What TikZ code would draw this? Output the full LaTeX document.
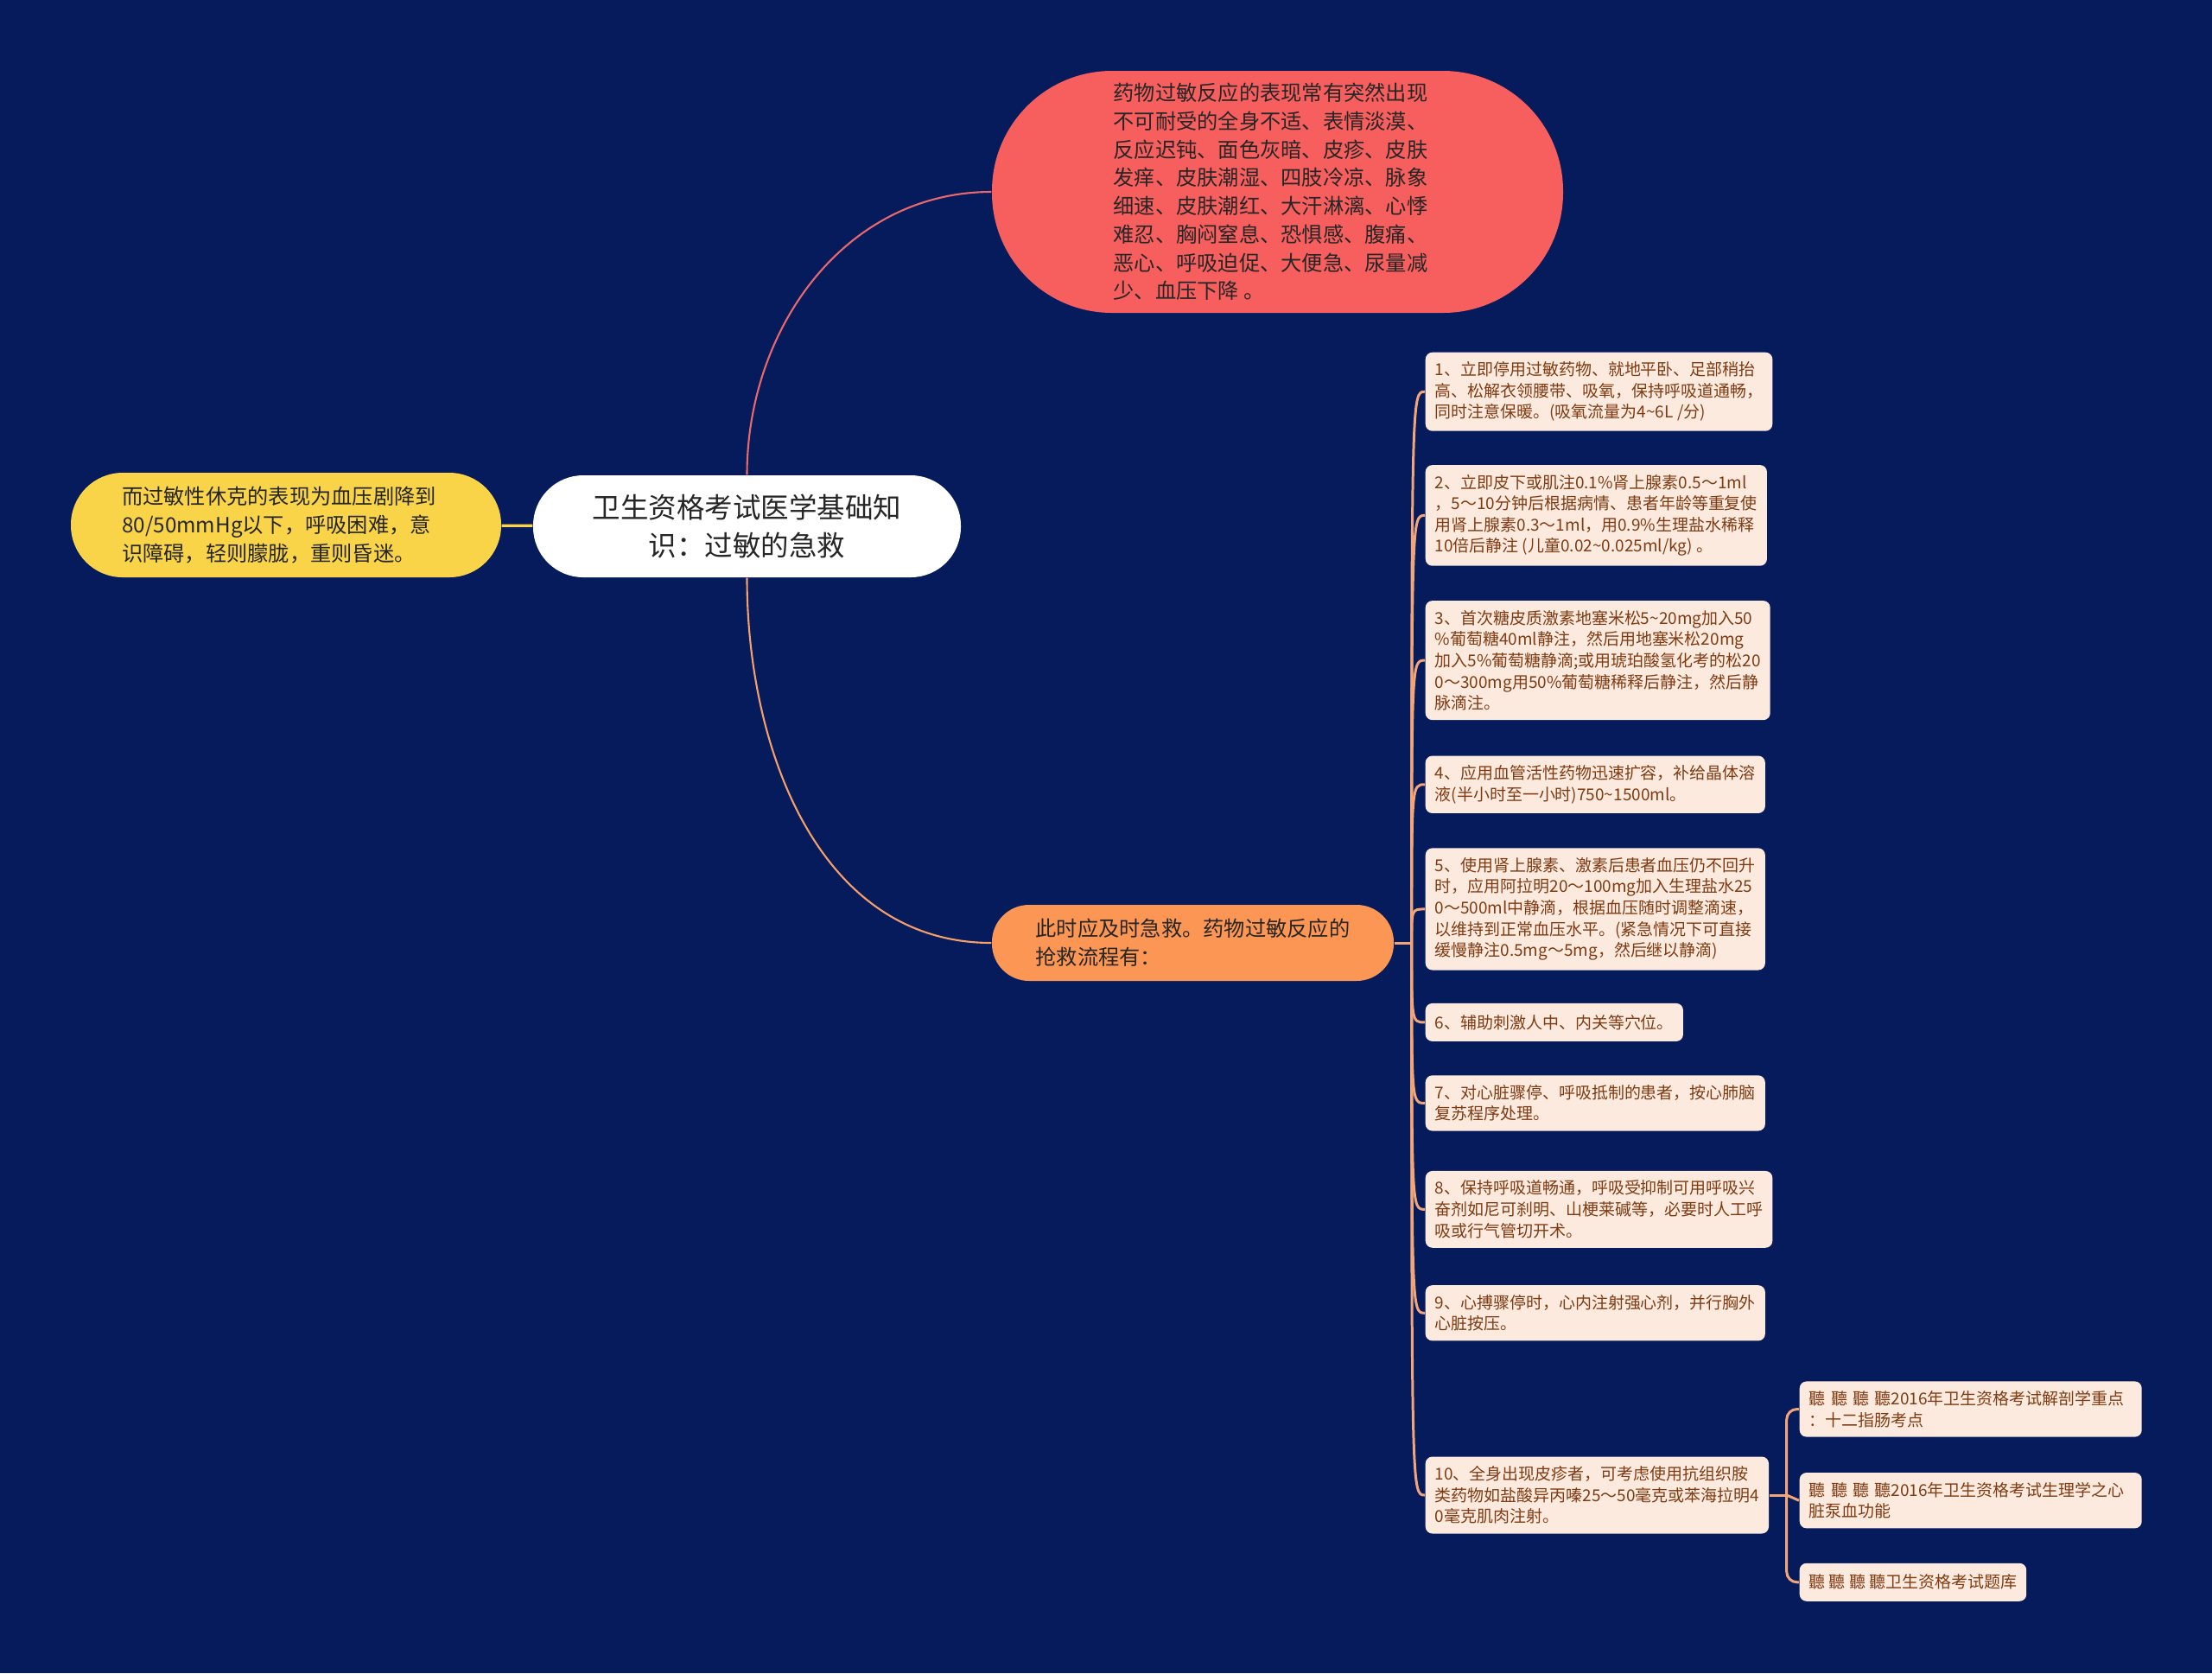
\documentclass[tikz,border=0pt]{standalone}
\usepackage{fontspec}
\setmainfont{Noto Sans CJK SC}
\usepackage{tikz}
\usetikzlibrary{positioning}

\definecolor{bgnavy}{HTML}{061B5B}
\definecolor{rootfill}{HTML}{FFFFFF}
\definecolor{symfill}{HTML}{F65F5E}
\definecolor{shockfill}{HTML}{F9D448}
\definecolor{aidfill}{HTML}{FC9654}
\definecolor{itemfill}{HTML}{FDEADF}
\definecolor{itemtext}{HTML}{7F3B12}
\definecolor{linkred}{HTML}{E8686E}
\definecolor{linkorange}{HTML}{F5A06A}
\definecolor{linkpeach}{HTML}{F3A57A}

\begin{document}
\begin{tikzpicture}[
        bigtext/.style={font=\fontsize{6.9pt}{9.3pt}\selectfont, align=left, text=black!85},
        item/.style={fill=itemfill, text=itemtext, rounded corners=0.08cm, inner xsep=0.11cm, inner ysep=0.11cm, minimum height=0.44cm, align=left, font=\fontsize{5.4pt}{7pt}\selectfont},
        branch/.style={draw=linkpeach, line width=0.85pt},
        curve/.style={line width=0.6pt}
    ]
        \fill[bgnavy] (0,0) rectangle (25.6,-19.36);

        \node[fill=rootfill, rounded corners=0.58cm, minimum width=4.95cm, minimum height=1.18cm, align=center, font=\fontsize{9.25pt}{12.5pt}\selectfont, text=black!85] (root) at (8.645,-6.09) {卫生资格考试医学基础知\\识：过敏的急救};

        \node[bigtext, fill=shockfill, rounded corners=0.6cm, minimum width=4.98cm, minimum height=1.21cm] (shock) at (3.31,-6.075) {\hspace*{-0.16cm}而过敏性休克的表现为血压剧降到\\\hspace*{-0.16cm}80/50mmHg以下，呼吸困难，意\\\hspace*{-0.16cm}识障碍，轻则朦胧，重则昏迷。};

        \node[bigtext, fill=symfill, rounded corners=1.39cm, minimum width=6.61cm, minimum height=2.8cm] (sym) at (14.785,-2.22) {\hspace*{-0.16cm}药物过敏反应的表现常有突然出现\\\hspace*{-0.16cm}不可耐受的全身不适、表情淡漠、\\\hspace*{-0.16cm}反应迟钝、面色灰暗、皮疹、皮肤\\\hspace*{-0.16cm}发痒、皮肤潮湿、四肢冷凉、脉象\\\hspace*{-0.16cm}细速、皮肤潮红、大汗淋漓、心悸\\\hspace*{-0.16cm}难忍、胸闷窒息、恐惧感、腹痛、\\\hspace*{-0.16cm}恶心、呼吸迫促、大便急、尿量减\\\hspace*{-0.16cm}少、血压下降 。};

        \node[bigtext, fill=aidfill, rounded corners=0.43cm, minimum width=4.65cm, minimum height=0.88cm] (aid) at (13.805,-10.91) {此时应及时急救。药物过敏反应的\\抢救流程有：};

        \node[item, anchor=north west] (s1) at (16.49,-4.07) {1、立即停用过敏药物、就地平卧、足部稍抬\\高、松解衣领腰带、吸氧，保持呼吸道通畅，\\同时注意保暖。(吸氧流量为4\textasciitilde6L /分)};
        \node[item, below=0.38cm of s1.south west, anchor=north west] (s2) {2、立即皮下或肌注0.1\%肾上腺素0.5～1ml\\，5～10分钟后根据病情、患者年龄等重复使\\用肾上腺素0.3～1ml，用0.9\%生理盐水稀释\\10倍后静注 (儿童0.02\textasciitilde0.025ml/kg) 。};
        \node[item, below=0.39cm of s2.south west, anchor=north west] (s3) {3、首次糖皮质激素地塞米松5\textasciitilde20mg加入50\\\%葡萄糖40ml静注，然后用地塞米松20mg\\加入5\%葡萄糖静滴;或用琥珀酸氢化考的松20\\0～300mg用50\%葡萄糖稀释后静注，然后静\\脉滴注。};
        \node[item, below=0.40cm of s3.south west, anchor=north west] (s4) {4、应用血管活性药物迅速扩容，补给晶体溶\\液(半小时至一小时)750\textasciitilde1500ml。};
        \node[item, below=0.39cm of s4.south west, anchor=north west] (s5) {5、使用肾上腺素、激素后患者血压仍不回升\\时，应用阿拉明20～100mg加入生理盐水25\\0～500ml中静滴，根据血压随时调整滴速，\\以维持到正常血压水平。(紧急情况下可直接\\缓慢静注0.5mg～5mg，然后继以静滴)};
        \node[item, below=0.37cm of s5.south west, anchor=north west] (s6) {6、辅助刺激人中、内关等穴位。};
        \node[item, below=0.38cm of s6.south west, anchor=north west] (s7) {7、对心脏骤停、呼吸抵制的患者，按心肺脑\\复苏程序处理。};
        \node[item, below=0.45cm of s7.south west, anchor=north west] (s8) {8、保持呼吸道畅通，呼吸受抑制可用呼吸兴\\奋剂如尼可刹明、山梗莱碱等，必要时人工呼\\吸或行气管切开术。};
        \node[item, below=0.42cm of s8.south west, anchor=north west] (s9) {9、心搏骤停时，心内注射强心剂，并行胸外\\心脏按压。};
        \node[item, anchor=west] (s10) at (16.49,-17.30) {10、全身出现皮疹者，可考虑使用抗组织胺\\类药物如盐酸异丙嗪25～50毫克或苯海拉明4\\0毫克肌肉注射。};

        \node[item, anchor=west, text width=3.74cm] (r1) at (20.82,-16.305) {聽 聽 聽 聽2016年卫生资格考试解剖学重点\\：十二指肠考点};
        \node[item, below=0.40cm of r1.south west, anchor=north west, text width=3.74cm] (r2) {聽 聽 聽 聽2016年卫生资格考试生理学之心\\脏泵血功能};
        \node[item, below=0.39cm of r2.south west, anchor=north west] (r3) {聽 聽 聽 聽卫生资格考试题库};

        \coordinate[right=0.2cm of aid] (hub);
        \coordinate[right=0.2cm of s10] (hub2);

        \draw[shockfill, line width=0.9pt] (shock) -- (root);
        \draw[curve, linkred] (root.north) to[out=90, in=180] (sym.west);
        \draw[curve, linkorange] (root.south) to[out=-90, in=180] (aid.west);

        \draw[branch] (aid) -- (hub);
        \draw[branch] (hub) .. controls (hub |- s1.west) .. (s1.west);
        \draw[branch] (hub) .. controls (hub |- s2.west) .. (s2.west);
        \draw[branch] (hub) .. controls (hub |- s3.west) .. (s3.west);
        \draw[branch] (hub) .. controls (hub |- s4.west) .. (s4.west);
        \draw[branch] (hub) .. controls (hub |- s5.west) .. (s5.west);
        \draw[branch] (hub) .. controls (hub |- s6.west) .. (s6.west);
        \draw[branch] (hub) .. controls (hub |- s7.west) .. (s7.west);
        \draw[branch] (hub) .. controls (hub |- s8.west) .. (s8.west);
        \draw[branch] (hub) .. controls (hub |- s9.west) .. (s9.west);
        \draw[branch] (hub) .. controls (hub |- s10.west) .. (s10.west);

        \draw[branch] (s10) -- (hub2);
        \draw[branch, rounded corners=0.12cm] (hub2) |- (r1.west);
        \draw[branch] (hub2) -- (r2.west);
        \draw[branch, rounded corners=0.12cm] (hub2) |- (r3.west);
    \end{tikzpicture}
\end{document}
